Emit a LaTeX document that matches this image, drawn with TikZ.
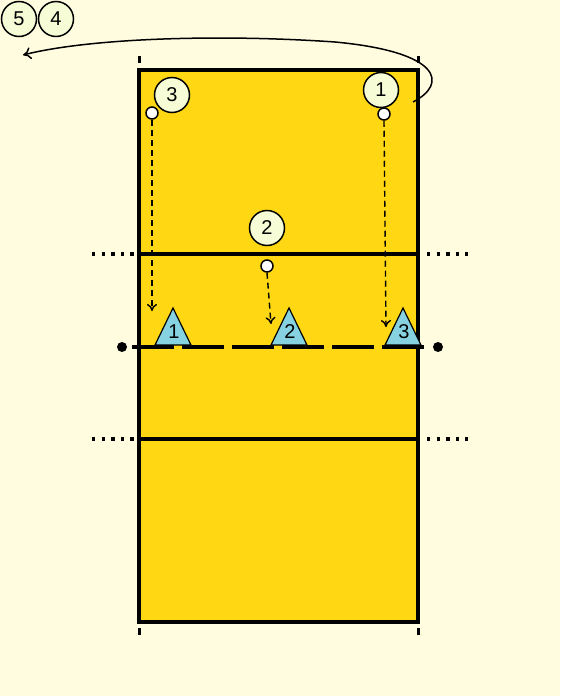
\documentclass[tikz,border=0pt]{standalone}
\usepackage{fontspec}
\setmainfont{Liberation Sans}
\usetikzlibrary{arrows.meta,positioning,calc}

\definecolor{paper}{HTML}{FFFCDF}
\definecolor{court}{HTML}{FFD712}
\definecolor{cone}{HTML}{86D2E0}
\definecolor{playerfill}{HTML}{F6FCD6}

\begin{document}
\begin{tikzpicture}[x=1pt, y=-1pt,
    player/.style={draw, circle, line width=1.5pt, fill=playerfill, minimum size=35pt, inner sep=0pt, font=\fontsize{20}{20}\selectfont},
    ball/.style={draw, circle, line width=1.5pt, fill=white, minimum size=12pt, inner sep=0pt},
    conelabel/.style={font=\fontsize{20}{20}\selectfont, inner sep=0pt},
    courtline/.style={line width=3.4pt},
    ext/.style={line width=3.4pt, dash pattern=on 3.4pt off 6.2pt},
    tick/.style={line width=3pt},
    run/.style={-{To[length=7pt,width=10pt]}, line width=1.4pt, dash pattern=on 6pt off 4pt},
    pass/.style={-{To[length=8pt,width=12pt]}, line width=1.5pt}
  ]
    \useasboundingbox[fill=paper] (0,0) rectangle (560,696);

    % court
    \draw[courtline, fill=court] (139,70) rectangle (418,622);
    \draw[courtline] (139,254) -- (418,254);
    \draw[courtline] (139,439) -- (418,439);
    \draw[ext] (92,254) -- (139,254);
    \draw[ext] (427,254) -- (468,254);
    \draw[ext] (92,439) -- (139,439);
    \draw[ext] (427,439) -- (468,439);
    \draw[tick] (139,56) -- (139,63);
    \draw[tick] (418,56) -- (418,63);
    \draw[tick] (139,628) -- (139,635);
    \draw[tick] (418,628) -- (418,635);

    % cones
    \foreach \x/\n in {173/1, 289/2, 403/3} {
      \draw[line width=1.2pt, fill=cone] (\x,308) -- (\x+18,345) -- (\x-18,345) -- cycle;
      \node[conelabel] (c\n) at (\x+1,332) {\n};
    }

    % net
    \draw[line width=4.5pt, dash pattern=on 42pt off 8pt] (132,347) -- (426,347);
    \fill (122,347) circle (5pt);
    \fill (438,347) circle (5pt);

    % players and balls
    \node[player] (p5) at (19,19) {5};
    \node[player] (p4) at (56,19) {4};
    \node[player] (p3) at (172,95) {3};
    \node[player] (p1) at (381,90) {1};
    \node[player] (p2) at (267,228) {2};
    \node[ball] (b3) at (152,113) {};
    \node[ball] (b1) at (384,114) {};
    \node[ball] (b2) at (267,266) {};

    \coordinate (t3) at (152,311);
    \coordinate (t1) at (386,327);
    \coordinate (t2) at (271,324);
    \draw[run] (b3.south) -- (t3);
    \draw[run] (b1.south) -- (t1);
    \draw[run] (b2.south) -- (t2);

    % rotation
    \coordinate (rs) at (413,102);
    \coordinate (rm) at (335,42);
    \coordinate (re) at (23,55);
    \draw[pass] (rs) .. controls (448,84) and (442,52) .. (rm) .. controls (220,34) and (90,38) .. (re);
  \end{tikzpicture}
\end{document}
